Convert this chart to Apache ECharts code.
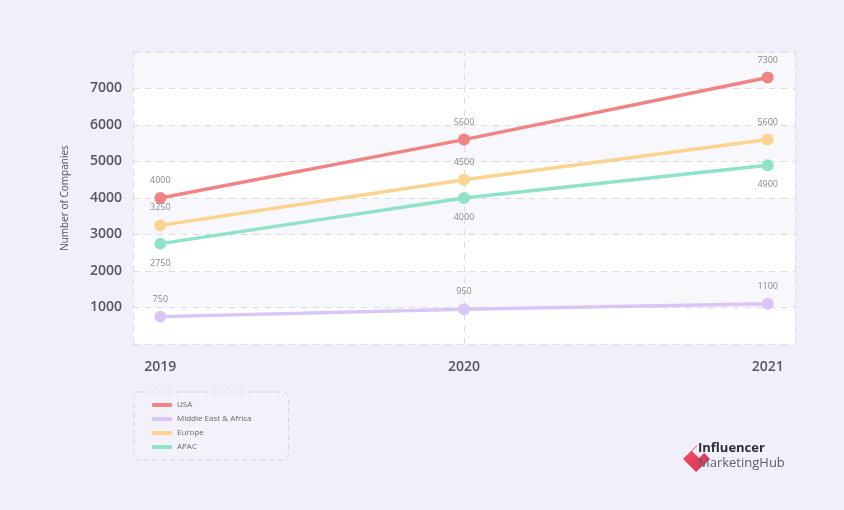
<!DOCTYPE html>
<html>
<head>
<meta charset="utf-8">
<script src="https://cdn.jsdelivr.net/npm/echarts@6/dist/echarts.min.js"></script>
<style>
  html, body { margin: 0; padding: 0; background: #f0effa; }
  #chart { width: 844px; height: 510px; }
</style>
</head>
<body>
<div id="chart"></div>
<script>
// Number of companies by region, 2019–2021
const years = [2019, 2020, 2021];
const usa = [4000, 5600, 7300];
const middleEastAfrica = [750, 950, 1100];
const europe = [3250, 4500, 5600];
const apac = [2750, 4000, 4900];
const yTicks = [1000, 2000, 3000, 4000, 5000, 6000, 7000];

const FONT = '"Open Sans", "Noto Sans", sans-serif';
const chart = echarts.init(document.getElementById('chart'));

function pairs(values) {
  return years.map((y, i) => [y, values[i]]);
}

function lineSeries(name, values, color, labelPos) {
  return {
    name: name,
    type: 'line',
    data: pairs(values),
    symbol: 'circle',
    symbolSize: 12,
    lineStyle: { color: color, width: 3.5 },
    itemStyle: { color: color },
    label: {
      show: true,
      position: labelPos,
      distance: labelPos === 'top' ? 7 : 9,
      color: '#8a8a8a',
      fontSize: 9,
      fontFamily: FONT
    },
    emphasis: { disabled: true }
  };
}

const series = [
  lineSeries('USA', usa, '#f08484', 'top'),
  lineSeries('Middle East & Africa', middleEastAfrica, '#dac6f6', 'top'),
  lineSeries('Europe', europe, '#fcd38f', 'top'),
  lineSeries('APAC', apac, '#90e2c8', 'bottom')
];

// dashed vertical guide at the middle year
series[0].markLine = {
  silent: true,
  symbol: 'none',
  label: { show: false },
  lineStyle: { color: '#dcdce4', type: [6, 6], width: 1 },
  data: [{ xAxis: years[1] }],
  z: 1
};

chart.setOption({
  backgroundColor: '#f0effa',
  animation: false,
  grid: { left: 133, right: 49, top: 52, bottom: 166 },
  xAxis: {
    type: 'value',
    min: 2018.91,
    max: 2021.09,
    axisLine: { show: false },
    axisTick: { show: false },
    splitLine: { show: false },
    axisLabel: {
      customValues: years,
      formatter: v => String(v),
      color: '#555560',
      fontSize: 14,
      fontWeight: 600,
      fontFamily: FONT,
      margin: 16
    }
  },
  yAxis: [{
    type: 'value',
    min: 0,
    max: 8000,
    interval: 1000,
    name: 'Number of Companies',
    nameLocation: 'middle',
    nameGap: 63,
    nameTextStyle: { color: '#555560', fontSize: 10, fontFamily: FONT },
    axisLine: { show: true, lineStyle: { color: '#dcdce4', type: [6, 6] } },
    axisTick: { show: false },
    axisLabel: {
      formatter: v => (yTicks.indexOf(v) >= 0 ? String(v) : ''),
      color: '#555560',
      fontSize: 14,
      fontWeight: 600,
      fontFamily: FONT,
      margin: 11
    },
    splitLine: { show: true, lineStyle: { color: '#dcdce4', type: [6, 6], width: 1 } },
    splitArea: { show: true, areaStyle: { color: ['#ffffff', '#f8f8fc'] } }
  }, {
    type: 'value',
    min: 0,
    max: 8000,
    position: 'right',
    axisLine: { show: true, lineStyle: { color: '#dcdce4', type: [6, 6] } },
    axisTick: { show: false },
    axisLabel: { show: false },
    splitLine: { show: false }
  }],
  legend: {
    orient: 'vertical',
    left: 134,
    top: 392,
    padding: [9, 37, 9, 18],
    itemWidth: 20,
    itemHeight: 4,
    itemGap: 6,
    icon: 'roundRect',
    backgroundColor: '#f3f2fb',
    borderColor: '#d4d4dc',
    borderWidth: 1,
    borderType: [5, 4],
    borderRadius: 6,
    selectedMode: false,
    textStyle: { color: '#666670', fontSize: 8, fontFamily: FONT },
    data: ['USA', 'Middle East & Africa', 'Europe', 'APAC']
  },
  graphic: [{
    type: 'group',
    left: 683,
    top: 442,
    children: [{
      type: 'polygon',
      shape: { points: [[0, 20], [14, 6], [27, 20], [13, 33]] },
      style: {
        fill: new echarts.graphic.LinearGradient(0, 0, 1, 1, [
          { offset: 0, color: '#f2536f' },
          { offset: 1, color: '#d9304f' }
        ])
      }
    }, {
      type: 'polygon',
      shape: { points: [[9, 12], [15, 6], [22, 13], [16, 19]] },
      style: { fill: '#f0effa' }
    }, {
      type: 'text',
      x: 15,
      y: 3,
      style: { text: 'Influencer', fill: '#2e2e3a', font: 'bold 13px ' + FONT }
    }, {
      type: 'text',
      x: 15,
      y: 18,
      style: { text: 'MarketingHub', fill: '#5e5e6a', font: '13px ' + FONT }
    }]
  }],
  series: series
});
</script>
</body>
</html>
